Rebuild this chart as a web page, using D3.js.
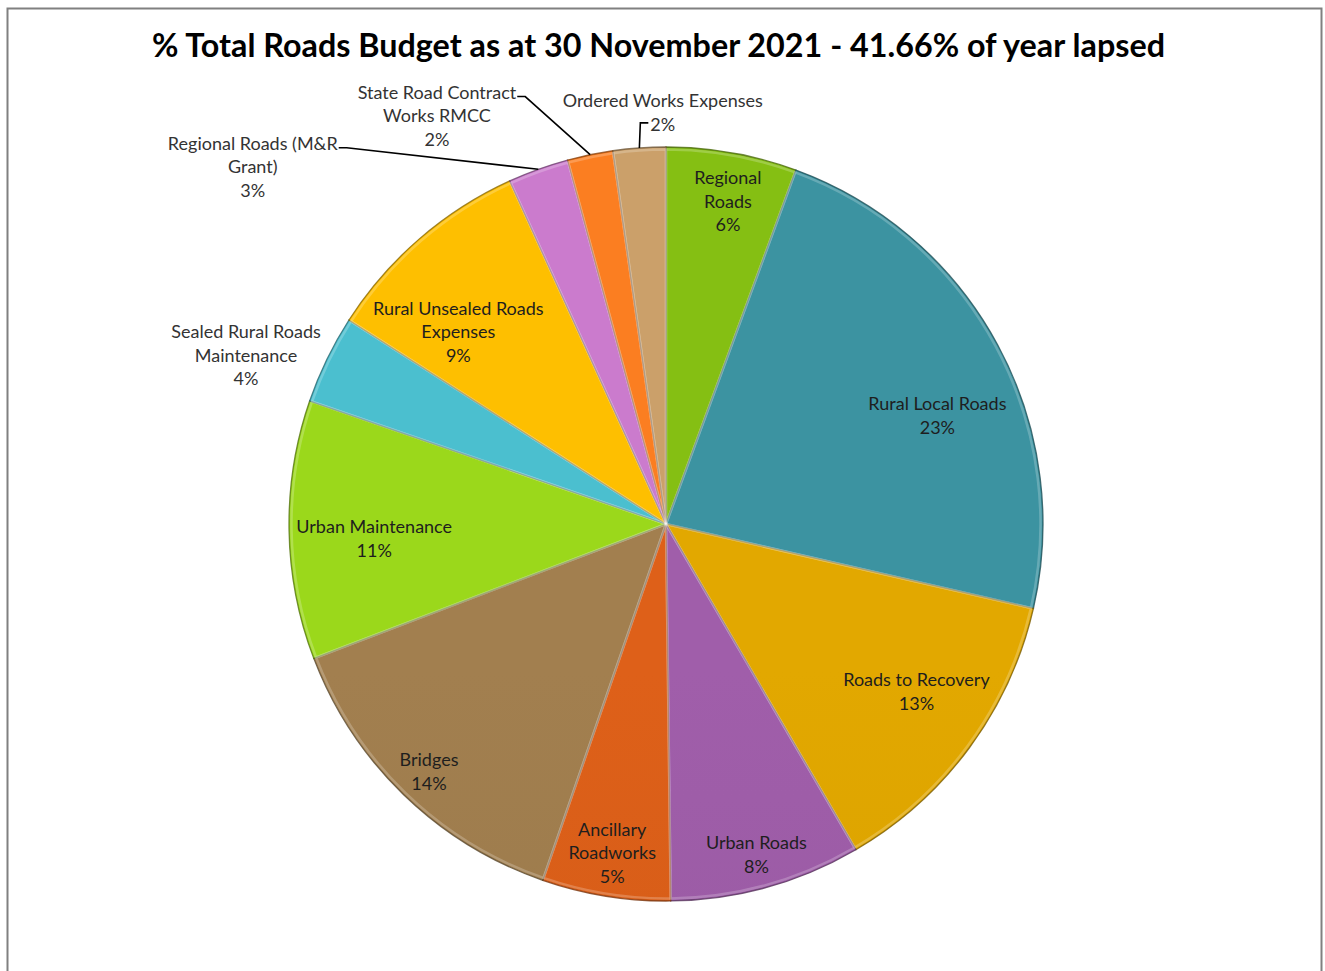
<!DOCTYPE html>
<html>
<head>
<meta charset="utf-8">
<script src="https://cdn.jsdelivr.net/npm/d3@7"></script>
<style>
  body { margin: 0; background: #fff; }
  svg { display: block; }
  text { font-family: Lato, "Open Sans", sans-serif; }
</style>
</head>
<body>
<script>
// ---- chart data ----
var categories = ["Regional Roads", "Rural Local Roads", "Roads to Recovery", "Urban Roads",
  "Ancillary Roadworks", "Bridges", "Urban Maintenance", "Sealed Rural Roads Maintenance",
  "Rural Unsealed Roads Expenses", "Regional Roads (M&R Grant)",
  "State Road Contract Works RMCC", "Ordered Works Expenses"];
// share of total budget, percent
var shares = [5.6, 23.0, 13.0, 8.2, 5.5, 13.9, 11.1, 3.8, 9.1, 2.6, 1.95, 2.25];
// the rounded labels as printed on the chart
var shareLabels = ["6%", "23%", "13%", "8%", "5%", "14%", "11%", "4%", "9%", "3%", "2%", "2%"];
// how the category names wrap
var labelLines = [["Regional", "Roads"], ["Rural Local Roads"], ["Roads to Recovery"], ["Urban Roads"],
  ["Ancillary", "Roadworks"], ["Bridges"], ["Urban Maintenance"], ["Sealed Rural Roads", "Maintenance"],
  ["Rural Unsealed Roads", "Expenses"], ["Regional Roads (M&R", "Grant)"],
  ["State Road Contract", "Works RMCC"], ["Ordered Works Expenses"]];
var title = "% Total Roads Budget as at 30 November 2021 - 41.66% of year lapsed";

// ---- styling / layout ----
var colors = ["#80b812", "#3a8e9b", "#daa200", "#9a5ba4", "#d65d18", "#9c7b4c",
  "#96d01a", "#48b8c8", "#f5b800", "#c477c6", "#f27a20", "#c49a66"];
// label placement: [angle shift in degrees, radius as fraction of pie radius]
var labelPlace = [[0.8, 0.87], [6.7, 0.775], [-2.5, 0.80], [0.2, 0.91], [0.1, 0.885], [-0.4, 0.91],
  [-2, 0.775], [-4.1, 1.2], [-6.4, 0.75], [-29.4, 1.448], [-17.7, 1.241], [3.6, 1.09]];
// leader lines: which side of the label they leave from (null = no line)
var leaderSide = [null, null, null, null, null, null, null, null, null, "right", "right", "left"];

var width = 1325, height = 971;
var cx = 666, cy = 524, radius = 377;
var lineH = 23.5;

var svg = d3.select("body").append("svg")
  .attr("width", width)
  .attr("height", height);

// outer chart frame
svg.append("rect")
  .attr("x", 7.5).attr("y", 8.5)
  .attr("width", 1314).attr("height", 980)
  .attr("fill", "none")
  .attr("stroke", "#808080")
  .attr("stroke-width", 2);

svg.append("text")
  .attr("x", 152).attr("y", 57)
  .attr("textLength", 1013)
  .attr("lengthAdjust", "spacingAndGlyphs")
  .attr("font-size", 32)
  .attr("font-weight", "bold")
  .attr("fill", "#000")
  .text(title);

// gradient per slice, light at the top of the pie to dark at the bottom
var defs = svg.append("defs");
colors.forEach(function(c, i) {
  var g = defs.append("linearGradient")
    .attr("id", "grad" + i)
    .attr("gradientUnits", "userSpaceOnUse")
    .attr("x1", 0).attr("y1", cy - radius)
    .attr("x2", 0).attr("y2", cy + radius);
  g.append("stop").attr("offset", "0%").attr("stop-color", d3.color(c).brighter(0.1));
  g.append("stop").attr("offset", "50%").attr("stop-color", c);
  g.append("stop").attr("offset", "100%").attr("stop-color", d3.color(c).darker(0.6));
});

var pie = d3.pie().sort(null).value(function(d) { return d; });
var arcs = pie(shares);
var arc = d3.arc().innerRadius(0).outerRadius(radius);

var g = svg.append("g").attr("transform", "translate(" + cx + "," + cy + ")");

g.selectAll("path.slice")
  .data(arcs)
  .enter().append("path")
  .attr("class", "slice")
  .attr("d", arc)
  .attr("fill", function(d, i) { return "url(#grad" + i + ")"; })
  .attr("stroke", function(d, i) { return d3.color(colors[i]).darker(1.6); })
  .attr("stroke-opacity", 0.8)
  .attr("stroke-width", 1.3);

// soft light edge inside each slice, imitating the bevel
g.selectAll("path.bevel")
  .data(arcs)
  .enter().append("path")
  .attr("class", "bevel")
  .attr("d", d3.arc().innerRadius(0).outerRadius(radius - 2.5))
  .attr("fill", "none")
  .attr("stroke", "#fff")
  .attr("stroke-opacity", 0.22)
  .attr("stroke-width", 2.5);

function midAngle(d) { return (d.startAngle + d.endAngle) / 2; }

arcs.forEach(function(d, i) {
  var a = midAngle(d) + labelPlace[i][0] * Math.PI / 180;
  var r = radius * labelPlace[i][1];
  var lx = Math.sin(a) * r, ly = -Math.cos(a) * r;
  var lines = labelLines[i].concat([shareLabels[i]]);
  var n = lines.length;
  var inside = labelPlace[i][1] < 1;

  var t = g.append("text")
    .attr("text-anchor", "middle")
    .attr("font-size", 18)
    .attr("fill", inside ? "#1e1e1e" : "#333");
  var spans = [];
  lines.forEach(function(s, k) {
    spans.push(t.append("tspan")
      .attr("x", lx)
      .attr("y", ly - (n - 1) / 2 * lineH + k * lineH + 6)
      .text(s));
  });

  if (leaderSide[i]) {
    var px = Math.sin(midAngle(d)) * radius, py = -Math.cos(midAngle(d)) * radius;
    var sx, sy, hx;
    if (leaderSide[i] == "right") {
      var w0 = spans[0].node().getComputedTextLength();
      sx = lx + w0 / 2 + 1;
      sy = ly - (n - 1) / 2 * lineH + 4;
      hx = sx + 8;
    } else {
      var wl = spans[n - 1].node().getComputedTextLength();
      sx = lx - wl / 2 - 2;
      sy = ly + (n - 1) / 2 * lineH - 2;
      hx = sx - 8;
    }
    g.append("path")
      .attr("d", d3.line()([[sx, sy], [hx, sy], [px, py]]))
      .attr("fill", "none")
      .attr("stroke", "#000")
      .attr("stroke-width", 1.6);
  }
});
</script>
</body>
</html>
